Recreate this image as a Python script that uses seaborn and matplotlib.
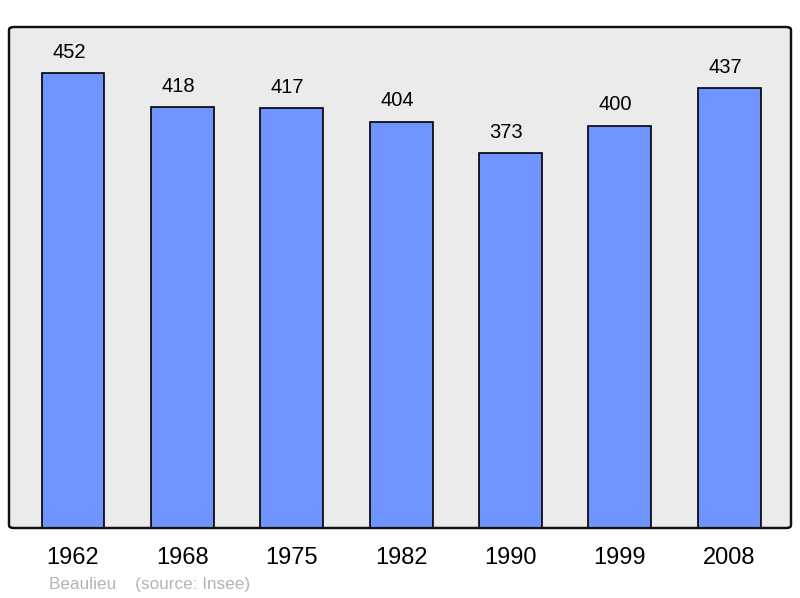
import matplotlib
matplotlib.use("Agg")
import matplotlib.pyplot as plt
import seaborn as sns
import pandas as pd
from matplotlib.patches import FancyBboxPatch

years = ["1962", "1968", "1975", "1982", "1990", "1999", "2008"]
population = [452, 418, 417, 404, 373, 400, 437]
title_text = "Beaulieu    (source: Insee)"

sns.set_style("white")
plt.rcParams["font.family"] = ["Liberation Sans", "DejaVu Sans"]

df = pd.DataFrame({"year": years, "pop": population})

fig = plt.figure(figsize=(8, 5.98), dpi=100)
ax = fig.add_axes([9/800, 70/598, 782/800, 501/598])
ax.set_facecolor("none")

sns.barplot(data=df, x="year", y="pop", color="#7094ff", saturation=1,
            width=0.575, edgecolor="black", linewidth=1.2, ax=ax, zorder=3)

ax.set_xlim(-0.585, 6.565)
ax.set_ylim(0, 498)

frame = FancyBboxPatch((0, 0), 1, 1, boxstyle="round,pad=0,rounding_size=0.006",
                       transform=ax.transAxes, facecolor="#ebebeb",
                       edgecolor="#111111", linewidth=1.6, zorder=0, clip_on=False)
ax.add_patch(frame)
frame2 = FancyBboxPatch((0, 0), 1, 1, boxstyle="round,pad=0,rounding_size=0.006",
                        transform=ax.transAxes, facecolor="none",
                        edgecolor="#111111", linewidth=1.6, zorder=5, clip_on=False)
ax.add_patch(frame2)

for s in ax.spines.values():
    s.set_visible(False)

for i, v in enumerate(population):
    ax.annotate(str(v), xy=(i, v), xytext=(-3, 8), textcoords="offset points",
                ha="center", va="bottom", fontsize=14.5, color="black")

ax.set_yticks([])
ax.set_xlabel("")
ax.set_ylabel("")
ax.tick_params(axis="x", length=0, labelsize=17, pad=14, labelcolor="black")

fig.text(49/800, 1 - 585/598, title_text, fontsize=12.3, color="#b4b4b4",
         ha="left", va="center")

fig.savefig("out.png", dpi=100)
